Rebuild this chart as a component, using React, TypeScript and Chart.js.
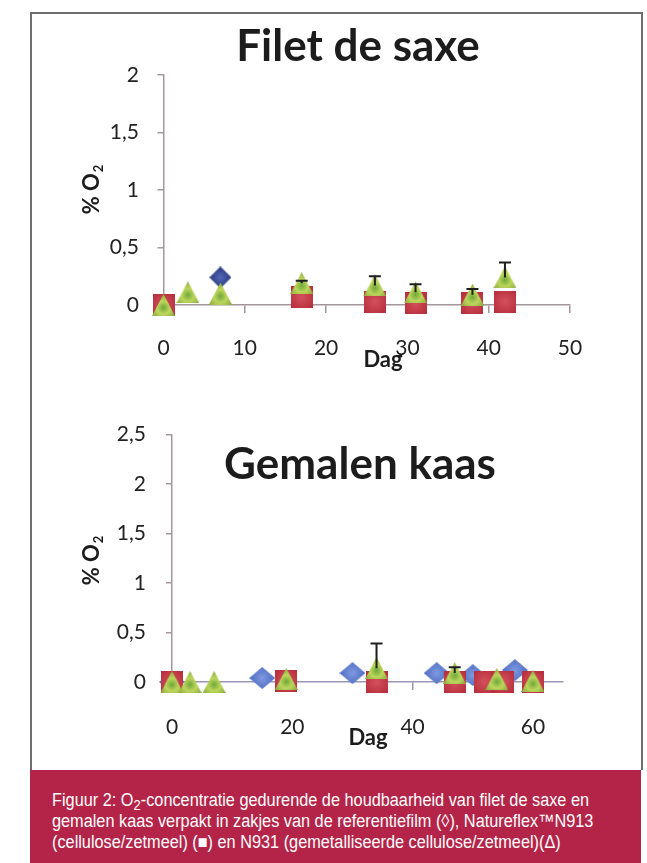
import React, { useEffect, useRef } from "react";
import { Chart, registerables } from "chart.js";
Chart.register(...registerables);

// ---- Filet de saxe (top) ----
const saxeRefDays = [0, 7];
const saxeRef = [0, 0.24];
const saxeN913Days = [0, 17, 26, 31, 38, 42];
const saxeN913 = [0, 0.07, 0.03, 0.02, 0.02, 0.03];
const saxeN931Days = [0, 3, 7, 17, 26, 31, 38, 42];
const saxeN931 = [0, 0.11, 0.1, 0.19, 0.17, 0.11, 0.09, 0.24];
const saxeN931Err = [0, 0, 0, 0.02, 0.08, 0.07, 0.05, 0.13];
const saxeXTicks = [0, 10, 20, 30, 40, 50];
const saxeYTicks = [0, 0.5, 1, 1.5, 2];

// ---- Gemalen kaas (bottom) ----
const kaasRefDays = [0, 15, 30, 44, 50, 57];
const kaasRef = [0, 0.04, 0.09, 0.09, 0.07, 0.12];
const kaasN913Days = [0, 19, 34, 47, 52, 55, 60];
const kaasN913 = [0, 0.01, 0, 0, 0, 0, 0];
const kaasN931Days = [0, 3, 7, 19, 34, 47, 54, 60];
const kaasN931 = [0, 0, 0, 0.03, 0.14, 0.09, 0.03, 0.01];
const kaasN931Err = [0, 0, 0, 0, 0.25, 0.06, 0, 0];
const kaasXTicks = [0, 20, 40, 60];
const kaasYTicks = [0, 0.5, 1, 1.5, 2, 2.5];

const FONT = "Lato, 'Open Sans', sans-serif";

function makeMarker(kind: string, w: number, h: number, stops: [number, string][]) {
  const c = document.createElement("canvas");
  c.width = w;
  c.height = h;
  const ctx = c.getContext("2d")!;
  const cy = kind === "triangle" ? h * 0.62 : h / 2;
  const g = ctx.createRadialGradient(w / 2, cy, 0, w / 2, cy, Math.max(w, h) * 0.62);
  stops.forEach(([o, col]) => g.addColorStop(o, col));
  ctx.fillStyle = g;
  ctx.beginPath();
  if (kind === "square") {
    ctx.rect(0, 0, w, h);
  } else if (kind === "triangle") {
    ctx.moveTo(w / 2, 0);
    ctx.lineTo(w, h);
    ctx.lineTo(0, h);
    ctx.closePath();
  } else {
    ctx.moveTo(w / 2, 0);
    ctx.lineTo(w, h / 2);
    ctx.lineTo(w / 2, h);
    ctx.lineTo(0, h / 2);
    ctx.closePath();
  }
  ctx.fill();
  return c;
}

const errorBarPlugin = {
  id: "errorBars",
  afterDatasetsDraw(chart: any) {
    const ctx = chart.ctx;
    const yScale = chart.scales.y;
    chart.data.datasets.forEach((ds: any, i: number) => {
      if (!ds.errorBars) return;
      const meta = chart.getDatasetMeta(i);
      meta.data.forEach((el: any, j: number) => {
        const e = ds.errorBars[j];
        if (!e) return;
        const top = yScale.getPixelForValue(ds.data[j].y + e);
        ctx.save();
        ctx.strokeStyle = "#1e1e1e";
        ctx.lineWidth = 2;
        ctx.beginPath();
        ctx.moveTo(el.x, el.y);
        ctx.lineTo(el.x, top);
        ctx.moveTo(el.x - 6, top);
        ctx.lineTo(el.x + 6, top);
        ctx.stroke();
        ctx.restore();
      });
    });
  },
};

const textPlugin = {
  id: "textOverlay",
  afterDraw(chart: any, _args: any, opts: any) {
    const ctx = chart.ctx;
    (opts.items || []).forEach((it: any) => {
      ctx.save();
      ctx.translate(it.x, it.y);
      if (it.rotate) ctx.rotate(it.rotate);
      ctx.fillStyle = it.color || "#1c1c1c";
      ctx.textBaseline = "middle";
      ctx.font = `bold ${it.size}px ${FONT}`;
      const w = ctx.measureText(it.text).width;
      let subW = 0;
      const subSize = Math.round(it.size * 0.6);
      if (it.sub) {
        ctx.font = `bold ${subSize}px ${FONT}`;
        subW = ctx.measureText(it.sub).width;
      }
      const total = w + subW;
      ctx.font = `bold ${it.size}px ${FONT}`;
      ctx.textAlign = "left";
      ctx.fillText(it.text, -total / 2, 0);
      if (it.sub) {
        ctx.font = `bold ${subSize}px ${FONT}`;
        ctx.fillText(it.sub, -total / 2 + w + 1, it.size * 0.3);
      }
      ctx.restore();
    });
  },
};

const fmt = (v: any) => String(v).replace(".", ",");

function buildConfig(p: any) {
  const tri = makeMarker("triangle", 23, 22, [
    [0, "#6fa83a"],
    [0.45, "#bdd65c"],
    [1, "#86a63a"],
  ]);
  const sq = makeMarker("square", 22, 22, [
    [0, "#d4525c"],
    [1, "#b8303f"],
  ]);
  const dia = makeMarker("diamond", p.diaW, 22, [
    [0, p.diaCenter],
    [1, p.diaEdge],
  ]);
  const pts = (xs: number[], ys: number[]) => xs.map((x, i) => ({ x, y: ys[i] }));
  return {
    type: "scatter",
    data: {
      datasets: [
        {
          label: "N931",
          data: pts(p.triX, p.triY),
          pointStyle: tri,
          pointRadius: 11,
          order: 1,
          clip: false,
          errorBars: p.triErr,
        },
        {
          label: "N913",
          data: pts(p.sqX, p.sqY),
          pointStyle: sq,
          pointRadius: 11,
          order: 2,
          clip: false,
        },
        {
          label: "Referentiefilm",
          data: pts(p.diaX, p.diaY),
          pointStyle: dia,
          pointRadius: 11,
          order: 3,
          clip: false,
        },
      ],
    },
    options: {
      animation: false,
      responsive: false,
      devicePixelRatio: 1,
      layout: { padding: p.padding },
      plugins: {
        legend: { display: false },
        tooltip: { enabled: false },
        textOverlay: { items: p.texts },
      },
      scales: {
        x: {
          type: "linear",
          min: 0,
          max: p.xMax,
          afterFit: (s: any) => {
            s.height = 60;
          },
          afterBuildTicks: (s: any) => {
            s.ticks = p.xTicks.map((v: number) => ({ value: v }));
          },
          ticks: {
            padding: p.xPad,
            color: "#222",
            font: { family: FONT, size: 21 },
            maxRotation: 0,
            autoSkip: false,
            callback: fmt,
          },
          grid: {
            drawOnChartArea: false,
            drawTicks: true,
            tickLength: 8,
            color: p.xAxisColor,
            lineWidth: 1.5,
          },
          border: { display: true, color: p.xAxisColor, width: 1.5 },
        },
        y: {
          type: "linear",
          min: 0,
          max: p.yMax,
          afterFit: (s: any) => {
            s.width = 60;
          },
          afterBuildTicks: (s: any) => {
            s.ticks = p.yTicks.map((v: number) => ({ value: v }));
          },
          ticks: {
            padding: p.yPad,
            color: "#222",
            font: { family: FONT, size: 21 },
            autoSkip: false,
            callback: fmt,
          },
          grid: {
            drawOnChartArea: false,
            drawTicks: true,
            tickLength: 6,
            color: "#a4979d",
            lineWidth: 1.5,
          },
          border: { display: true, color: "#a4979d", width: 1.5 },
        },
      },
    },
    plugins: [errorBarPlugin, textPlugin],
  };
}

function ChartCanvas({ params, width, height, style }: any) {
  const ref = useRef<HTMLCanvasElement>(null);
  useEffect(() => {
    if (!ref.current) return;
    const chart = new Chart(ref.current, buildConfig(params) as any);
    return () => chart.destroy();
  }, []);
  return <canvas ref={ref} width={width} height={height} style={{ position: "absolute", display: "block", ...style }} />;
}

const topParams = {
  triX: saxeN931Days,
  triY: saxeN931,
  triErr: saxeN931Err,
  sqX: saxeN913Days,
  sqY: saxeN913,
  diaX: saxeRefDays,
  diaY: saxeRef,
  diaW: 22,
  diaCenter: "#5468b8",
  diaEdge: "#1f2d70",
  xTicks: saxeXTicks,
  yTicks: saxeYTicks,
  xMax: 50,
  yMax: 2,
  xPad: 23,
  yPad: 18.5,
  xAxisColor: "#a3959b",
  padding: { left: 73.5, right: 73, top: 63, bottom: 37 },
  texts: [
    { text: "Filet de saxe", x: 328, y: 35, size: 44 },
    { text: "% O", sub: "2", x: 62, y: 178, size: 22, rotate: -Math.PI / 2 },
    { text: "Dag", x: 353, y: 348, size: 22 },
  ],
};

const bottomParams = {
  triX: kaasN931Days,
  triY: kaasN931,
  triErr: kaasN931Err,
  sqX: kaasN913Days,
  sqY: kaasN913,
  diaX: kaasRefDays,
  diaY: kaasRef,
  diaW: 26,
  diaCenter: "#7e9ae0",
  diaEdge: "#4460b8",
  xTicks: kaasXTicks,
  yTicks: kaasYTicks,
  xMax: 65,
  yMax: 2.5,
  xPad: 25,
  yPad: 20,
  xAxisColor: "#9a96b6",
  padding: { left: 82, right: 80, top: 31, bottom: 28 },
  texts: [
    { text: "Gemalen kaas", x: 330, y: 63, size: 44 },
    { text: "% O", sub: "2", x: 62, y: 159, size: 22, rotate: -Math.PI / 2 },
    { text: "Dag", x: 338, y: 336, size: 22 },
  ],
};

const captionLines = [
  "gemalen kaas verpakt in zakjes van de referentiefilm (\u25CA), Natureflex\u2122N913",
  "(cellulose/zetmeel) (\u25A0) en N931 (gemetalliseerde cellulose/zetmeel)(\u0394)",
];

export default function App() {
  return (
    <div style={{ position: "absolute", left: 0, top: 0, width: 647, height: 863, background: "#fff" }}>
      <div
        style={{
          position: "absolute",
          left: 30,
          top: 12,
          width: 613,
          height: 758,
          boxSizing: "border-box",
          borderTop: "2px solid #6e6e6e",
          borderLeft: "2px solid #6e6e6e",
          borderRight: "2px solid #6e6e6e",
          background: "#fff",
        }}
      />
      <ChartCanvas params={topParams} width={613} height={390} style={{ left: 30, top: 12 }} />
      <ChartCanvas params={bottomParams} width={613} height={368} style={{ left: 30, top: 402 }} />
      <div
        style={{
          position: "absolute",
          left: 30,
          top: 770,
          width: 611,
          height: 93,
          background: "rgb(180,36,72)",
        }}
      >
        <div
          style={{
            position: "absolute",
            left: 22,
            top: 19.5,
            color: "#fff",
            whiteSpace: "nowrap",
            font: "18px 'Liberation Sans', Arial, sans-serif",
            lineHeight: "21px",
            transform: "scaleX(0.905)",
            transformOrigin: "0 0",
          }}
        >
          <div>
            Figuur 2: O
            <span style={{ fontSize: "0.8em", verticalAlign: "-0.3em", lineHeight: 0 }}>2</span>
            -concentratie gedurende de houdbaarheid van filet de saxe en
          </div>
          {captionLines.map((l, i) => (
            <div key={i}>{l}</div>
          ))}
        </div>
      </div>
    </div>
  );
}
